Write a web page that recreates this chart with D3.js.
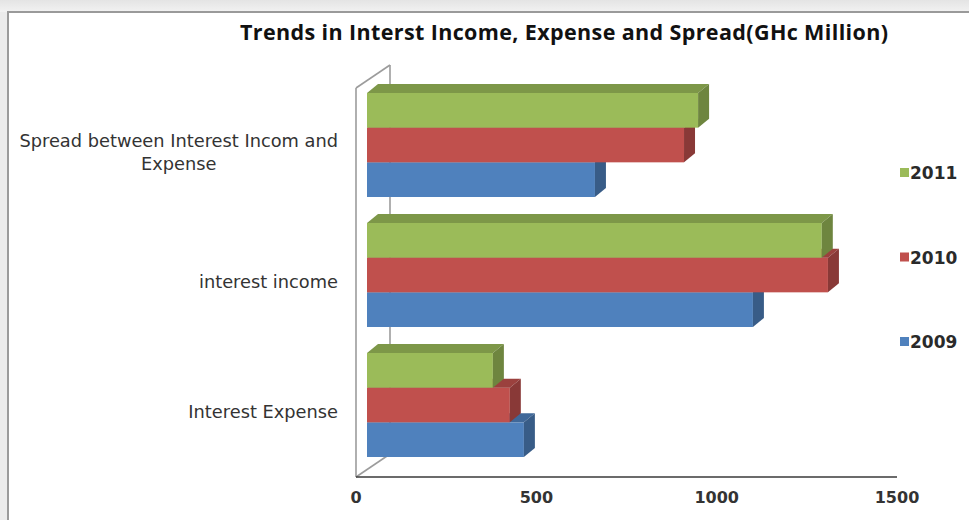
<!DOCTYPE html>
<html>
<head>
<meta charset="utf-8">
<script src="https://cdn.jsdelivr.net/npm/d3@7"></script>
<style>
  body { margin: 0; background: #fff; }
  svg { display: block; }
</style>
</head>
<body>
<div id="chart"></div>
<script>
// chart data (GHc Million)
const categories = ["Spread between Interest Incom and\nExpense", "interest income", "Interest Expense"];
const years = ["2011", "2010", "2009"];
const v2009 = [632, 1070, 435];
const v2010 = [879, 1278, 396];
const v2011 = [918, 1261, 349];
const xTicks = [0, 500, 1000, 1500];
const colors = { "2011": "#9BBB59", "2010": "#C0504D", "2009": "#4F81BD" };
const valuesByYear = { "2011": v2011, "2010": v2010, "2009": v2009 };

const W = 969, H = 520;
const svg = d3.select("#chart").append("svg").attr("width", W).attr("height", H);

// window-ish frame with a soft grey shadow
const defs = svg.append("defs");
const gTop = defs.append("linearGradient").attr("id", "shTop").attr("x1", 0).attr("y1", 0).attr("x2", 0).attr("y2", 1);
gTop.append("stop").attr("offset", 0).attr("stop-color", "#e4e4e4");
gTop.append("stop").attr("offset", 1).attr("stop-color", "#f2f2f2");
svg.append("rect").attr("width", W).attr("height", 12).attr("fill", "url(#shTop)");
svg.append("rect").attr("y", 12).attr("width", 8).attr("height", H).attr("fill", "#ebebeb");
svg.append("rect").attr("x", 8).attr("y", 12).attr("width", W).attr("height", H)
  .attr("fill", "#fff").attr("stroke", "#9a9a9a").attr("stroke-width", 2);

// scales
const x = d3.scaleLinear().domain([0, 1500]).range([356, 897]);
const y = d3.scaleBand().domain(categories).range([93, 457]).paddingInner(0.2);
const ys = d3.scaleBand().domain(years).range([0, y.bandwidth()]);

const floorY = 477, wallTop = 88;
const wall = { dx: 34, dy: -23 };   // depth of the 3d box
const bar = { dx: 11, dy: -9, off: 11 }; // depth of each bar

// side wall outline
const wallG = svg.append("g").attr("stroke", "#9c9c9c").attr("stroke-width", 1.6).attr("fill", "none");
wallG.append("line").attr("x1", x(0)).attr("y1", floorY).attr("x2", x(0)).attr("y2", wallTop);
wallG.append("line").attr("x1", x(0)).attr("y1", wallTop).attr("x2", x(0) + wall.dx).attr("y2", wallTop + wall.dy);
wallG.append("line").attr("x1", x(0) + wall.dx).attr("y1", wallTop + wall.dy).attr("x2", x(0) + wall.dx).attr("y2", floorY + wall.dy);
wallG.append("line").attr("x1", x(0)).attr("y1", floorY).attr("x2", x(0) + wall.dx).attr("y2", floorY + wall.dy);

// bars: draw bottom series first so upper fronts cover lower tops
const drawOrder = years.slice().reverse();
const bars = [];
categories.forEach((c, i) => {
  drawOrder.forEach(yr => bars.push({ cat: c, year: yr, value: valuesByYear[yr][i] }));
});

const barG = svg.append("g").selectAll("g").data(bars).enter().append("g");
const x0 = x(0) + bar.off;
const xEnd = d => x(d.value) + bar.off;
const yTop = d => y(d.cat) + ys(d.year);
const h = ys.bandwidth();

barG.append("rect")
  .attr("x", x0).attr("y", yTop)
  .attr("width", d => xEnd(d) - x0).attr("height", h)
  .attr("fill", d => colors[d.year]);

barG.append("polygon")
  .attr("points", d => {
    const t = yTop(d), e = xEnd(d);
    return [[x0, t], [x0 + bar.dx, t + bar.dy], [e + bar.dx, t + bar.dy], [e, t]].join(" ");
  })
  .attr("fill", d => d3.color(colors[d.year]).darker(0.6));

barG.append("polygon")
  .attr("points", d => {
    const t = yTop(d), e = xEnd(d);
    return [[e, t], [e + bar.dx, t + bar.dy], [e + bar.dx, t + h + bar.dy], [e, t + h]].join(" ");
  })
  .attr("fill", d => d3.color(colors[d.year]).darker(0.95));

// x axis (front floor edge)
svg.append("line").attr("x1", x(0)).attr("y1", floorY).attr("x2", x(1500)).attr("y2", floorY)
  .attr("stroke", "#3a3a3a").attr("stroke-width", 1.5);

svg.append("g").selectAll("text").data(xTicks).enter().append("text")
  .attr("x", d => x(d)).attr("y", 503)
  .attr("text-anchor", "middle")
  .attr("font-family", "DejaVu Sans").attr("font-weight", "bold").attr("font-size", 16)
  .attr("fill", "#333")
  .text(d => d);

// category labels, wrapped lines centred on the longest one
const labelRight = 338;
categories.forEach(c => {
  const lines = c.split("\n");
  const t = svg.append("text")
    .attr("font-family", "DejaVu Sans").attr("font-size", 17.8).attr("fill", "#333")
    .attr("text-anchor", "middle");
  const spans = lines.map(l => t.append("tspan").text(l));
  const maxW = d3.max(spans, s => s.node().getComputedTextLength());
  const cy = y(c) + y.bandwidth() / 2 + 7;
  const lh = 23;
  spans.forEach((s, k) => {
    s.attr("x", labelRight - maxW / 2)
      .attr("y", cy + (k - (lines.length - 1) / 2) * lh + 6);
  });
});

// title
svg.append("text")
  .attr("x", 564).attr("y", 40)
  .attr("text-anchor", "middle")
  .attr("font-family", "Open Sans").attr("font-weight", "bold").attr("font-size", 21.5)
  .attr("textLength", 648).attr("lengthAdjust", "spacing")
  .attr("fill", "#111")
  .text("Trends in Interst Income, Expense and Spread(GHc Million)");

// legend
const legend = svg.append("g").selectAll("g").data(years).enter().append("g")
  .attr("transform", (d, i) => "translate(900," + (173 + i * 84.5) + ")");
legend.append("rect").attr("x", 0).attr("y", -5).attr("width", 9).attr("height", 9)
  .attr("fill", d => colors[d]);
legend.append("text").attr("x", 10).attr("y", 6)
  .attr("font-family", "DejaVu Sans").attr("font-weight", "bold").attr("font-size", 17)
  .attr("fill", "#2a2a2a")
  .text(d => d);
</script>
</body>
</html>
